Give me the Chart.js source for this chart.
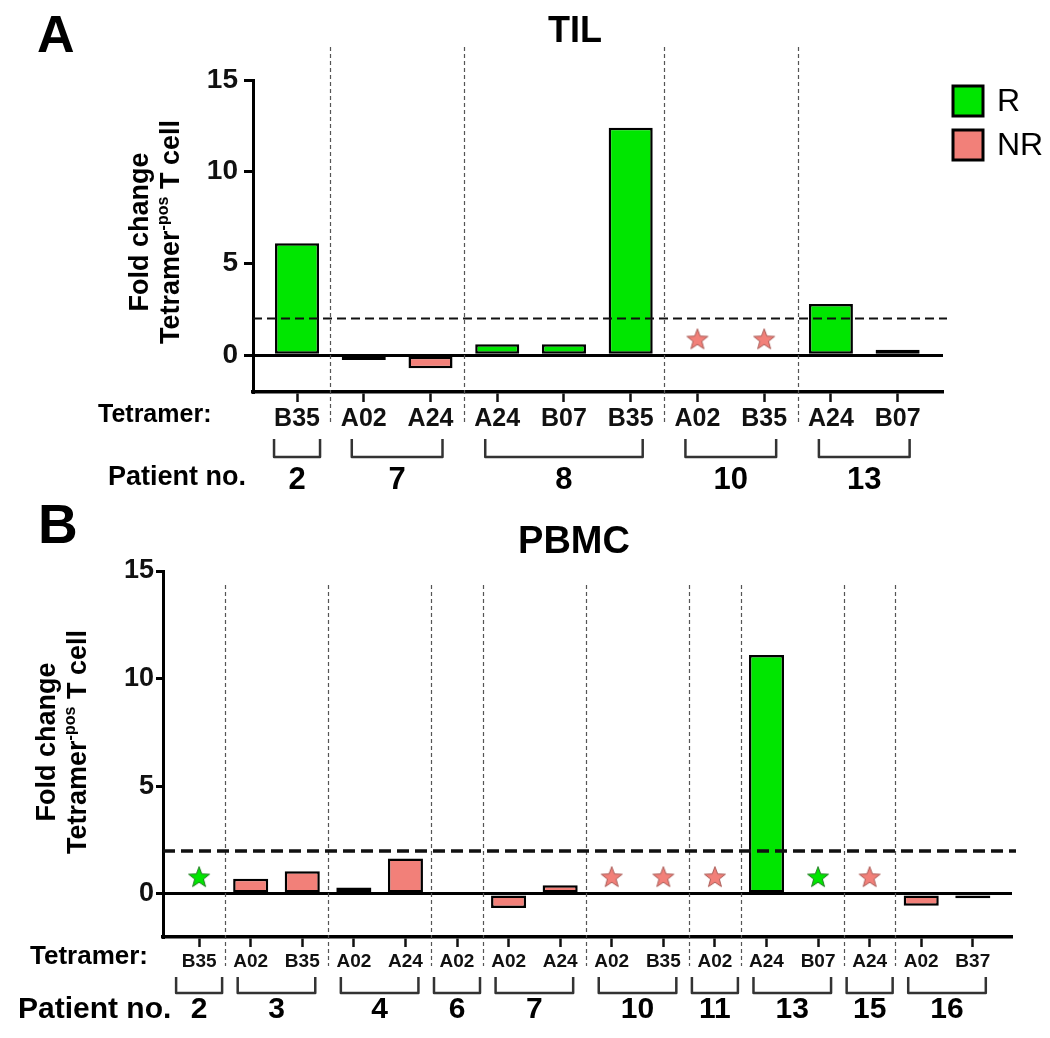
<!DOCTYPE html>
<html>
<head>
<meta charset="utf-8">
<script src="https://cdn.jsdelivr.net/npm/chart.js@4.4.1/dist/chart.umd.min.js"></script>
<style>
  html, body { margin: 0; padding: 0; background: #fff; }
  #fig { position: relative; width: 1050px; height: 1038px; }
  canvas { position: absolute; left: 0; }
  #tilChart { top: 0; }
  #pbmcChart { top: 500px; }
</style>
</head>
<body>
<div id="fig">
  <canvas id="tilChart" width="1050" height="500"></canvas>
  <canvas id="pbmcChart" width="1050" height="538"></canvas>
</div>
<script>
// A - TIL
const tilTetramers = ["B35", "A02", "A24", "A24", "B07", "B35", "A02", "B35", "A24", "B07"]
const tilPatients = ["2", "7", "7", "8", "8", "8", "10", "10", "13", "13"]
const tilResponse = ["R", "NR", "NR", "R", "R", "R", "NR", "NR", "R", "R"]
const tilFold = [6.1, -0.25, -0.7, 0.6, 0.6, 12.4, null, null, 2.8, 0.3]
const tilNotDetected = [null, null, null, null, null, null, 0.87, 0.87, null, null]

// B - PBMC
const pbmcTetramers = ["B35", "A02", "B35", "A02", "A24", "A02", "A02", "A24", "A02", "B35", "A02", "A24", "B07", "A24", "A02", "B37"]
const pbmcPatients = ["2", "3", "3", "4", "4", "6", "7", "7", "10", "10", "11", "13", "13", "15", "16", "16"]
const pbmcResponse = ["R", "NR", "NR", "NR", "NR", "NR", "NR", "NR", "NR", "NR", "NR", "R", "R", "NR", "NR", "NR"]
const pbmcFold = [null, 0.7, 1.05, 0.3, 1.65, 0.08, -0.65, 0.4, null, null, null, 11.1, null, null, -0.55, -0.2]
const pbmcNotDetected = [0.78, null, null, null, null, null, null, null, 0.78, 0.78, 0.78, null, 0.78, 0.78, null, null]

const yTicks = [0, 5, 10, 15]
const foldThreshold = 2

const FONT = '"Liberation Sans", Arial, Helvetica, sans-serif'
const COLORS = { R: "#00e600", NR: "#f28079" }
const STAR_EDGE = { R: "#1f7a1f", NR: "#a85a55" }
Chart.defaults.font.family = FONT

function groupsOf(patients) {
  const groups = []
  patients.forEach((p, i) => {
    const last = groups[groups.length - 1]
    if (last && last.label === p) last.end = i
    else groups.push({ label: p, start: i, end: i })
  })
  return groups
}

function starImage(fill, stroke) {
  const c = document.createElement("canvas")
  c.width = 24
  c.height = 24
  const g = c.getContext("2d")
  g.beginPath()
  for (let k = 0; k < 10; k++) {
    const r = k % 2 ? 4.6 : 11
    const a = -Math.PI / 2 + (k * Math.PI) / 5
    g.lineTo(12 + r * Math.cos(a), 12.5 + r * Math.sin(a))
  }
  g.closePath()
  g.fillStyle = fill
  g.fill()
  g.lineWidth = 1
  g.strokeStyle = stroke
  g.stroke()
  return c
}

function drawYTitle(ctx, cx, cy, size) {
  ctx.save()
  ctx.translate(cx, cy)
  ctx.rotate(-Math.PI / 2)
  ctx.fillStyle = "#000"
  ctx.textBaseline = "middle"
  const main = `bold ${size}px ${FONT}`
  const sup = `bold ${Math.round(size * 0.6)}px ${FONT}`
  ctx.font = main
  ctx.textAlign = "center"
  ctx.fillText("Fold change", 0, -15.5)
  const parts = [["Tetramer", main, 0], ["-pos", sup, -size * 0.3], [" T cell", main, 0]]
  ctx.textAlign = "left"
  const widths = parts.map(([t, f]) => {
    ctx.font = f
    return ctx.measureText(t).width
  })
  let xx = -widths.reduce((a, b) => a + b) / 2
  parts.forEach(([t, f, dy], i) => {
    ctx.font = f
    ctx.fillText(t, xx, 15.5 + dy)
    xx += widths[i]
  })
  ctx.restore()
}

function decorPlugin(p) {
  const groups = groupsOf(p.patients)
  return {
    id: "decor",
    beforeDatasetsDraw(chart) {
      const { ctx, chartArea: area, scales } = chart
      ctx.save()
      ctx.strokeStyle = "#555"
      ctx.lineWidth = 1.2
      ctx.setLineDash([4, 3])
      groups.slice(0, -1).forEach((g) => {
        const px = Math.round(scales.x.getPixelForValue(g.end + 0.5)) + 0.5
        ctx.beginPath()
        ctx.moveTo(px, area.top + p.sepTop)
        ctx.lineTo(px, area.bottom + p.sepBottom)
        ctx.stroke()
      })
      ctx.restore()
    },
    afterDatasetsDraw(chart) {
      const { ctx, chartArea: area, scales } = chart
      const py = scales.y.getPixelForValue(foldThreshold)
      ctx.save()
      ctx.strokeStyle = "#111"
      ctx.lineWidth = p.threshWidth
      ctx.setLineDash(p.threshDash)
      ctx.beginPath()
      ctx.moveTo(area.left, py)
      ctx.lineTo(area.right + 4, py)
      ctx.stroke()
      ctx.restore()
    },
    afterDraw(chart) {
      const { ctx, chartArea: area, scales } = chart
      const x = scales.x
      ctx.save()
      ctx.fillStyle = "#000"
      // patient brackets
      ctx.strokeStyle = "#333"
      ctx.lineWidth = 2.5
      ctx.lineJoin = "round"
      ctx.font = `bold ${p.patientSize}px ${FONT}`
      ctx.textAlign = "center"
      ctx.textBaseline = "middle"
      groups.forEach((g) => {
        const pad = g.start === g.end ? p.singlePad : p.groupPad
        const x1 = x.getPixelForValue(g.start) - pad
        const x2 = x.getPixelForValue(g.end) + pad
        const t = area.bottom + p.bracketTop
        const b = area.bottom + p.bracketBottom
        ctx.beginPath()
        ctx.moveTo(x1, t)
        ctx.lineTo(x1, b)
        ctx.lineTo(x2, b)
        ctx.lineTo(x2, t)
        ctx.stroke()
        const mid = (x.getPixelForValue(g.start) + x.getPixelForValue(g.end)) / 2
        ctx.fillText(g.label, mid, area.bottom + p.patientY)
      })
      // row captions
      ctx.textAlign = "left"
      ctx.font = `bold ${p.tetCap.size}px ${FONT}`
      ctx.fillText("Tetramer:", p.tetCap.x, p.tetCap.y)
      ctx.font = `bold ${p.patCap.size}px ${FONT}`
      ctx.fillText("Patient no.", p.patCap.x, p.patCap.y)
      // panel letter and title
      ctx.textBaseline = "alphabetic"
      ctx.font = `bold ${p.letter.size}px ${FONT}`
      ctx.fillText(p.letter.text, p.letter.x, p.letter.y)
      ctx.textAlign = "center"
      ctx.font = `bold ${p.title.size}px ${FONT}`
      ctx.fillText(p.title.text, p.title.x, p.title.y)
      ctx.restore()

      drawYTitle(ctx, p.yTitle.x, p.yTitle.y, p.yTitle.size)

      // legend (panel A only)
      if (p.legend) {
        const L = p.legend
        const bars = chart.data.datasets.filter((d) => d.type !== "scatter")
        ctx.save()
        bars.forEach((d, i) => {
          const top = L.y + i * L.gap
          ctx.fillStyle = d.backgroundColor
          ctx.fillRect(L.x, top, L.box, L.box)
          ctx.lineWidth = 3
          ctx.strokeStyle = "#000"
          ctx.strokeRect(L.x, top, L.box, L.box)
          ctx.fillStyle = "#000"
          ctx.font = `${L.size}px ${FONT}`
          ctx.textAlign = "left"
          ctx.textBaseline = "middle"
          ctx.fillText(d.label, L.x + L.box + 14, top + L.box / 2 + 1)
        })
        ctx.restore()
      }
    },
  }
}

function makeChart(id, p) {
  const bars = { R: [], NR: [] }
  const stars = { R: [], NR: [] }
  p.fold.forEach((v, i) => {
    if (v !== null) bars[p.response[i]].push({ x: i, y: v })
  })
  p.stars.forEach((v, i) => {
    if (v !== null) stars[p.response[i]].push({ x: i, y: v })
  })
  const barSet = (key) => ({
    label: key,
    data: bars[key],
    backgroundColor: COLORS[key],
    borderColor: "#000",
    borderWidth: 2.5,
    borderSkipped: false,
    grouped: false,
    categoryPercentage: 1,
    barPercentage: p.barPct,
  })
  const starSet = (key) => ({
    type: "scatter",
    label: key + " n.d.",
    data: stars[key],
    pointStyle: starImage(COLORS[key], STAR_EDGE[key]),
  })

  return new Chart(document.getElementById(id), {
    type: "bar",
    data: {
      datasets: [barSet("R"), barSet("NR"), starSet("R"), starSet("NR")],
    },
    options: {
      responsive: false,
      animation: false,
      events: [],
      layout: { padding: p.padding },
      plugins: { legend: { display: false }, tooltip: { enabled: false } },
      scales: {
        x: {
          type: "linear",
          offset: false,
          min: p.xMin,
          max: p.xMax,
          afterBuildTicks: (s) => {
            s.ticks = p.tetramers.map((_, i) => ({ value: i }))
          },
          afterFit: (s) => {
            s.height = 40
          },
          ticks: {
            autoSkip: false,
            maxRotation: 0,
            padding: p.xTickPad,
            color: "#111",
            font: { size: p.xTickSize, weight: "bold" },
            callback: (v) => p.tetramers[v],
          },
          grid: { offset: false, drawOnChartArea: false, tickLength: 10, tickColor: "#111", tickWidth: 2.5 },
          border: { color: "#000", width: 3.5 },
        },
        y: {
          min: -2,
          max: 15,
          afterBuildTicks: (s) => {
            s.ticks = yTicks.map((v) => ({ value: v }))
          },
          afterFit: (s) => {
            s.width = 60
          },
          ticks: {
            padding: p.yTickPad,
            color: "#111",
            font: { size: p.yTickSize, weight: "bold" },
          },
          grid: {
            color: (c) => (c.tick && c.tick.value === 0 ? "#000" : "rgba(0,0,0,0)"),
            lineWidth: 3,
            tickColor: "#000",
            tickLength: p.yTickLen,
            tickWidth: 3,
          },
          border: { color: "#000", width: 3 },
        },
      },
    },
    plugins: [decorPlugin(p)],
  })
}

makeChart("tilChart", {
  tetramers: tilTetramers,
  patients: tilPatients,
  response: tilResponse,
  fold: tilFold,
  stars: tilNotDetected,
  padding: { left: 193, right: 107, top: 80, bottom: 68 },
  xMin: -0.66,
  xMax: 9.68,
  barPct: 0.66,
  xTickSize: 25,
  xTickPad: 2,
  yTickSize: 28,
  yTickPad: 6,
  yTickLen: 9,
  sepTop: -33,
  sepBottom: 31,
  threshWidth: 2,
  threshDash: [9, 5],
  singlePad: 23,
  groupPad: 12,
  bracketTop: 47,
  bracketBottom: 65,
  patientY: 88,
  patientSize: 31,
  tetCap: { x: 98, y: 415, size: 25 },
  patCap: { x: 108, y: 478, size: 27 },
  letter: { text: "A", x: 37, y: 52, size: 52 },
  title: { text: "TIL", x: 575, y: 42, size: 36 },
  yTitle: { x: 156, y: 232, size: 27 },
  legend: { x: 953, y: 86, box: 30, gap: 44, size: 32 },
})

makeChart("pbmcChart", {
  tetramers: pbmcTetramers,
  patients: pbmcPatients,
  response: pbmcResponse,
  fold: pbmcFold,
  stars: pbmcNotDetected,
  padding: { left: 103, right: 38, top: 71, bottom: 61 },
  xMin: -0.7,
  xMax: 15.76,
  barPct: 0.68,
  xTickSize: 19,
  xTickPad: 3,
  yTickSize: 27,
  yTickPad: 2,
  yTickLen: 7,
  sepTop: 14,
  sepBottom: 29,
  threshWidth: 3.5,
  threshDash: [12, 6],
  singlePad: 23,
  groupPad: 13,
  bracketTop: 40,
  bracketBottom: 56,
  patientY: 73,
  patientSize: 30,
  tetCap: { x: 30, y: 457, size: 26 },
  patCap: { x: 18, y: 510, size: 30 },
  letter: { text: "B", x: 38, y: 43, size: 55 },
  title: { text: "PBMC", x: 574, y: 53, size: 38 },
  yTitle: { x: 63, y: 242, size: 27 },
})
</script>
</body>
</html>
